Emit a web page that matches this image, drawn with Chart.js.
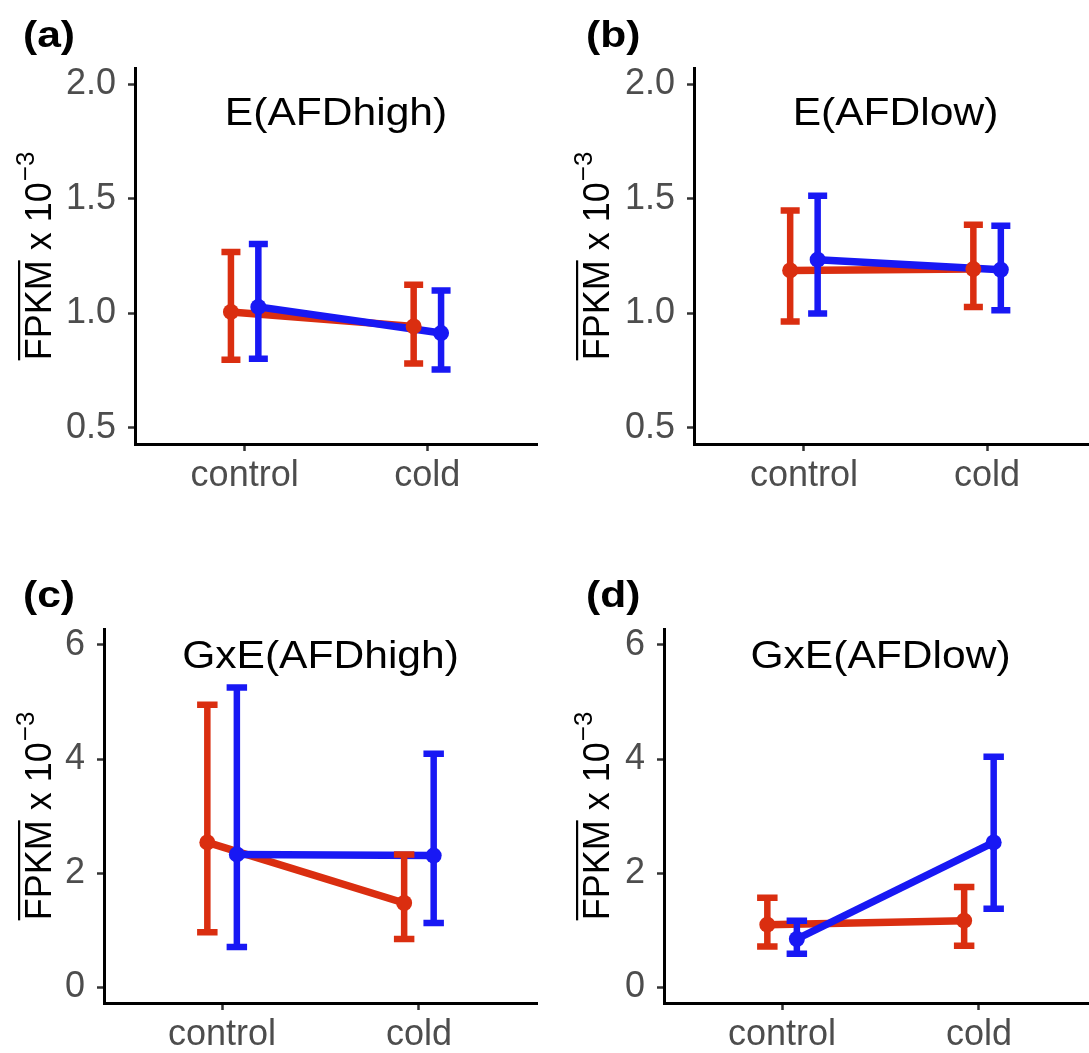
<!DOCTYPE html>
<html><head><meta charset="utf-8">
<script src="https://cdn.jsdelivr.net/npm/chart.js@4.4.1/dist/chart.umd.min.js"></script>
<style>
html,body{margin:0;padding:0;background:#fff;overflow:hidden;}
#wrap{position:relative;width:1089px;height:1053px;overflow:hidden;background:#fff;}
.panel{position:absolute;}
.panel canvas{display:block;}
</style></head><body><div id="wrap">
<div class="panel" style="left:0;top:0;width:545px;height:530px"><canvas id="ca"></canvas></div>
<div class="panel" style="left:545px;top:0;width:560px;height:530px"><canvas id="cb"></canvas></div>
<div class="panel" style="left:0;top:530px;width:545px;height:523px"><canvas id="cc"></canvas></div>
<div class="panel" style="left:545px;top:530px;width:560px;height:523px"><canvas id="cd"></canvas></div>
</div>
<script>
// ---------- data ----------
const categories = ['control', 'cold'];
const panelLabels = ['(a)', '(b)', '(c)', '(d)'];
const panelTitles = ['E(AFDhigh)', 'E(AFDlow)', 'GxE(AFDhigh)', 'GxE(AFDlow)'];
const yTicksE = [0.5, 1.0, 1.5, 2.0];
const yTicksGxE = [0, 2, 4, 6];
const yTitleOver = 'FPKM';
const yTitleMain = 'FPKM x 10';
const yTitleSup = '\u22123';

// panel (a) E(AFDhigh)
const aRedMean = [1.006, 0.943];
const aRedLow = [0.798, 0.781];
const aRedHigh = [1.267, 1.125];
const aBlueMean = [1.028, 0.914];
const aBlueLow = [0.802, 0.755];
const aBlueHigh = [1.302, 1.100];
// panel (b) E(AFDlow)
const bRedMean = [1.187, 1.193];
const bRedLow = [0.964, 1.028];
const bRedHigh = [1.449, 1.386];
const bBlueMean = [1.234, 1.190];
const bBlueLow = [0.999, 1.013];
const bBlueHigh = [1.513, 1.382];
// panel (c) GxE(AFDhigh)
const cRedMean = [2.54, 1.48];
const cRedLow = [0.97, 0.85];
const cRedHigh = [4.95, 2.33];
const cBlueMean = [2.33, 2.31];
const cBlueLow = [0.71, 1.13];
const cBlueHigh = [5.25, 4.09];
// panel (d) GxE(AFDlow)
const dRedMean = [1.10, 1.17];
const dRedLow = [0.72, 0.73];
const dRedHigh = [1.57, 1.76];
const dBlueMean = [0.85, 2.54];
const dBlueLow = [0.59, 1.38];
const dBlueHigh = [1.17, 4.04];

// ---------- style ----------
const RED = '#DA2E10';
const BLUE = '#1818F4';
const FONT = "'Liberation Sans', Arial, Helvetica, sans-serif";
const DODGE = 0.075;
const CAP_HALF = 0.052;

Chart.defaults.font.family = FONT;

const panels = [
  {id: 'ca', label: panelLabels[0], title: panelTitles[0], ticks: yTicksE, min: 0.43, max: 2.07, dec: 1,
   red: [aRedMean, aRedLow, aRedHigh], blue: [aBlueMean, aBlueLow, aBlueHigh],
   pad: {top: 68, right: 5, left: 0, bottom: 0}, yW: 135, xH: 86, labelXY: [23, 47], titleOff: 57, yTitleX: 51},
  {id: 'cb', label: panelLabels[1], title: panelTitles[1], ticks: yTicksE, min: 0.43, max: 2.07, dec: 1,
   red: [bRedMean, bRedLow, bRedHigh], blue: [bBlueMean, bBlueLow, bBlueHigh],
   pad: {top: 68, right: 6, left: 0, bottom: 0}, yW: 149, xH: 86, labelXY: [41, 47], titleOff: 57, yTitleX: 64},
  {id: 'cc', label: panelLabels[2], title: panelTitles[2], ticks: yTicksGxE, min: -0.27, max: 6.275, dec: 0,
   red: [cRedMean, cRedLow, cRedHigh], blue: [cBlueMean, cBlueLow, cBlueHigh],
   pad: {top: 99, right: 4, left: 0, bottom: 0}, yW: 104, xH: 50, labelXY: [23, 77], titleOff: 39, yTitleX: 51},
  {id: 'cd', label: panelLabels[3], title: panelTitles[3], ticks: yTicksGxE, min: -0.27, max: 6.275, dec: 0,
   red: [dRedMean, dRedLow, dRedHigh], blue: [dBlueMean, dBlueLow, dBlueHigh],
   pad: {top: 99, right: 4, left: 0, bottom: 0}, yW: 119, xH: 50, labelXY: [41, 77], titleOff: 39, yTitleX: 64}
];

function pts(mean, offset) {
  return categories.map((c, i) => ({x: i + 1 + offset, y: mean[i]}));
}

function drawErrorBars(chart, series, offset, color) {
  const ctx = chart.ctx, xs = chart.scales.x, ys = chart.scales.y;
  const [mean, low, high] = series;
  ctx.save();
  ctx.strokeStyle = color;
  ctx.lineWidth = 6.5;
  ctx.lineCap = 'butt';
  categories.forEach((c, i) => {
    const xv = i + 1 + offset;
    const px = xs.getPixelForValue(xv);
    const pl = xs.getPixelForValue(xv - CAP_HALF);
    const pr = xs.getPixelForValue(xv + CAP_HALF);
    const yl = ys.getPixelForValue(low[i]);
    const yh = ys.getPixelForValue(high[i]);
    ctx.beginPath();
    ctx.moveTo(px, yl); ctx.lineTo(px, yh);
    ctx.moveTo(pl, yl); ctx.lineTo(pr, yl);
    ctx.moveTo(pl, yh); ctx.lineTo(pr, yh);
    ctx.stroke();
  });
  ctx.restore();
}

function stretchedText(ctx, text, x, y, sx, align) {
  ctx.save();
  ctx.translate(x, y);
  ctx.scale(sx, 1);
  ctx.textAlign = align;
  ctx.fillText(text, 0, 0);
  ctx.restore();
}

const decorPlugin = {
  id: 'decor',
  afterDatasetDraw(chart, args) {
    const ds = chart.data.datasets[args.index];
    if (ds.barsAfter) {
      const p = chart.options.plugins.decor.panel;
      drawErrorBars(chart, p.red, -DODGE, RED);
      drawErrorBars(chart, p.blue, DODGE, BLUE);
    }
  },
  afterDraw(chart) {
    const p = chart.options.plugins.decor.panel;
    const ctx = chart.ctx, ca = chart.chartArea;
    ctx.save();
    ctx.fillStyle = '#000';
    ctx.textBaseline = 'alphabetic';
    // panel label
    ctx.font = 'bold 37px ' + FONT;
    stretchedText(ctx, p.label, p.labelXY[0], p.labelXY[1], 1.15, 'left');
    // title
    ctx.font = '38px ' + FONT;
    stretchedText(ctx, p.title, (ca.left + ca.right) / 2, ca.top + p.titleOff, 1.12, 'center');
    // y axis title (rotated, overline + superscript)
    const cy = (ca.top + ca.bottom) / 2;
    ctx.translate(p.yTitleX, cy);
    ctx.rotate(-Math.PI / 2);
    ctx.textAlign = 'left';
    const mainFont = '36px ' + FONT, supFont = '26px ' + FONT;
    ctx.font = mainFont;
    const w1 = ctx.measureText(yTitleMain).width;
    const wo = ctx.measureText(yTitleOver).width;
    ctx.font = supFont;
    const w2 = ctx.measureText(yTitleSup).width;
    const x0 = -(w1 + w2 + 1) / 2;
    ctx.font = mainFont;
    ctx.fillText(yTitleMain, x0, 0);
    ctx.font = supFont;
    ctx.fillText(yTitleSup, x0 + w1 + 1, -17);
    ctx.fillRect(x0, -33, wo, 2.2);
    ctx.restore();
  }
};

panels.forEach(p => {
  new Chart(document.getElementById(p.id), {
    type: 'scatter',
    data: {
      datasets: [
        {label: 'red line', data: pts(p.red[0], -DODGE), showLine: true, borderColor: RED, borderWidth: 7.5,
         pointRadius: 0, tension: 0, order: 6},
        {label: 'blue line', data: pts(p.blue[0], DODGE), showLine: true, borderColor: BLUE, borderWidth: 7.5,
         pointRadius: 0, tension: 0, order: 5, barsAfter: true},
        {label: 'red points', data: pts(p.red[0], -DODGE), showLine: false, pointRadius: 8,
         pointBackgroundColor: RED, pointBorderWidth: 0, order: 2},
        {label: 'blue points', data: pts(p.blue[0], DODGE), showLine: false, pointRadius: 8,
         pointBackgroundColor: BLUE, pointBorderWidth: 0, order: 1}
      ]
    },
    options: {
      responsive: true,
      maintainAspectRatio: false,
      animation: false,
      events: [],
      layout: {padding: p.pad},
      plugins: {legend: {display: false}, tooltip: {enabled: false}, decor: {panel: p}},
      scales: {
        x: {
          type: 'linear', min: 0.4, max: 2.6,
          afterFit: s => { s.height = p.xH; },
          afterBuildTicks: s => { s.ticks = categories.map((c, i) => ({value: i + 1})); },
          ticks: {callback: v => categories[Math.round(v) - 1], color: '#4D4D4D', font: {size: 36}, padding: 3, maxRotation: 0, autoSkip: false},
          grid: {drawOnChartArea: false, drawTicks: true, tickLength: 7, tickWidth: 2.5, tickColor: '#333', color: '#333'},
          border: {display: true, color: '#000', width: 3}
        },
        y: {
          type: 'linear', min: p.min, max: p.max,
          afterFit: s => { s.width = p.yW; },
          afterBuildTicks: s => { s.ticks = p.ticks.map(v => ({value: v})); },
          ticks: {callback: v => v.toFixed(p.dec), color: '#4D4D4D', font: {size: 36}, padding: 12},
          grid: {drawOnChartArea: false, drawTicks: true, tickLength: 7, tickWidth: 2.5, tickColor: '#333', color: '#333'},
          border: {display: true, color: '#000', width: 3}
        }
      }
    },
    plugins: [decorPlugin]
  });
});
</script></body></html>
